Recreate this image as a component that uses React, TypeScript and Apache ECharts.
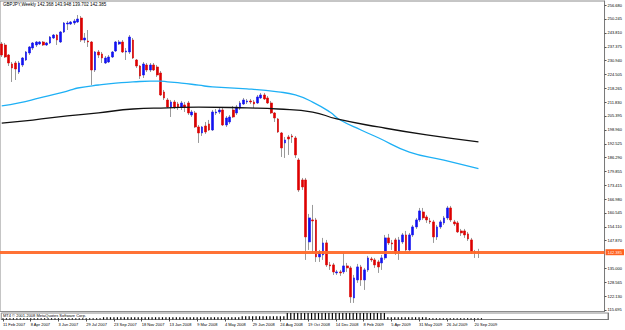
import React, { useEffect, useRef } from "react";
import * as echarts from "echarts";

const titleText = "GBPJPY,Weekly 142.368 143.948 139.702 142.385";
const footerText = "MT4 © 2001-2008 MetaQuotes Software Corp.";
const lastPrice = 142.385;
const SLOTS = 175;

const dateLabels = [
  "11 Feb 2007", "8 Apr 2007", "3 Jun 2007", "29 Jul 2007", "23 Sep 2007", "18 Nov 2007",
  "13 Jan 2008", "9 Mar 2008", "4 May 2008", "29 Jun 2008", "24 Aug 2008", "19 Oct 2008",
  "14 Dec 2008", "8 Feb 2009", "5 Apr 2009", "31 May 2009", "26 Jul 2009", "20 Sep 2009",
];

const yTicks = [
  256.68, 250.245, 243.81, 237.375, 230.94, 224.505, 218.265, 211.83, 205.395, 198.96, 192.525,
  186.29, 179.855, 173.415, 166.98, 160.545, 154.11, 147.87, 135.0, 128.565, 122.13, 115.695,
];

const open = [
  238.65, 238.19, 233.57, 229.41, 229.87, 225.71, 228.95, 231.26, 234.49, 236.8,
  238.19, 238.65, 239.58, 238.19, 239.12, 241.43, 242.81, 239.58, 244.2, 247.9,
  247.9, 248.36, 248.82, 250.67, 240.5, 240.04, 239.58, 226.64, 234.96, 234.03,
  229.87, 230.33, 232.64, 235.42, 238.65, 239.58, 234.96, 234.96, 240.5, 231.26,
  228.48, 224.32, 228.95, 226.64, 228.95, 228.02, 225.25, 216.47, 212.77, 209.53,
  211.85, 210.92, 209.53, 210.46, 211.38, 205.84, 206.76, 200.29, 197.52, 200.75,
  201.68, 198.9, 206.76, 207.22, 208.15, 201.21, 202.6, 208.15, 206.76, 209.07,
  210.92, 211.85, 212.31, 211.85, 211.38, 213.69, 215.08, 213.69, 211.38, 206.76,
  203.99, 197.52, 192.9, 195.67, 196.13, 195.21, 185.04, 175.79, 175.79, 147.14,
  157.31, 157.31, 140.2, 141.13, 146.68, 136.51, 136.51, 132.81, 133.27, 133.27,
  136.04, 135.12, 121.25, 129.57, 135.58, 129.57, 134.2, 139.28, 138.82, 137.89,
  137.43, 139.74, 148.99, 146.68, 148.06, 142.05, 147.14, 150.37, 143.44, 150.37,
  154.07, 157.31, 161.0, 158.69, 156.84, 156.38, 149.45, 154.07, 155.92, 158.23,
  162.85, 156.38, 155.92, 152.22, 152.22, 150.84, 148.06, 142.52, 142.368,
];

const close = [
  233.57, 232.64, 229.87, 227.56, 227.1, 229.87, 232.18, 234.96, 237.27, 239.12,
  239.58, 239.58, 238.19, 239.12, 241.89, 242.81, 240.5, 244.2, 248.36, 248.36,
  248.82, 249.28, 250.21, 240.5, 241.43, 239.58, 226.64, 234.96, 233.57, 232.18,
  232.18, 232.64, 234.96, 239.58, 239.58, 234.96, 235.42, 241.89, 232.18, 228.48,
  223.86, 229.41, 226.64, 228.95, 226.64, 224.32, 215.08, 213.69, 209.53, 211.85,
  209.53, 209.53, 211.38, 209.53, 206.76, 207.22, 200.29, 197.52, 200.29, 197.98,
  198.9, 207.22, 207.22, 208.15, 201.21, 204.45, 204.91, 204.91, 209.53, 211.38,
  212.77, 212.31, 211.85, 210.92, 214.16, 215.08, 213.23, 211.38, 206.76, 204.45,
  197.98, 190.58, 194.28, 194.74, 195.67, 187.35, 171.17, 172.56, 149.45, 158.23,
  156.84, 140.2, 142.52, 146.68, 136.51, 136.04, 133.27, 133.27, 132.81, 136.04,
  135.12, 121.72, 130.5, 135.58, 129.57, 134.2, 139.74, 138.82, 136.51, 135.58,
  139.74, 148.99, 146.68, 146.21, 142.05, 148.06, 150.37, 143.44, 150.37, 154.07,
  157.31, 161.47, 158.23, 157.31, 156.38, 149.45, 154.07, 156.38, 158.23, 162.85,
  157.31, 155.46, 151.76, 151.3, 150.37, 148.52, 142.52, 142.05, 142.385,
];

const high = [
  239.58, 239.12, 234.03, 230.33, 230.8, 230.8, 232.64, 235.42, 237.73, 239.58,
  240.04, 240.04, 240.04, 239.58, 242.35, 243.28, 243.28, 244.66, 248.82, 249.28,
  249.28, 250.21, 252.06, 251.59, 243.74, 245.12, 240.04, 235.42, 235.88, 234.96,
  233.11, 233.57, 235.42, 240.04, 240.5, 240.5, 236.8, 242.81, 241.43, 231.72,
  228.95, 230.33, 229.87, 229.87, 229.87, 228.95, 226.17, 217.39, 213.69, 212.77,
  212.77, 211.85, 212.31, 211.85, 212.31, 208.15, 207.69, 201.21, 200.75, 202.6,
  203.53, 208.15, 208.61, 209.07, 209.07, 205.37, 205.84, 210.0, 210.46, 212.31,
  213.69, 213.23, 213.23, 212.77, 215.08, 216.01, 216.01, 214.62, 212.31, 207.22,
  204.45, 197.98, 195.67, 196.59, 197.06, 196.13, 185.96, 176.72, 176.72, 160.08,
  164.24, 158.23, 143.44, 148.99, 148.06, 137.89, 137.43, 134.2, 134.2, 142.05,
  137.43, 136.04, 131.88, 136.97, 136.51, 135.12, 140.67, 140.2, 139.74, 138.82,
  141.13, 150.37, 150.84, 148.06, 148.99, 149.45, 151.3, 152.22, 151.3, 154.99,
  158.23, 162.85, 162.85, 159.62, 158.23, 157.31, 154.99, 157.31, 159.15, 163.78,
  163.78, 157.31, 156.84, 153.15, 153.15, 151.76, 148.99, 143.44, 143.948,
];

const low = [
  232.64, 232.18, 228.48, 221.09, 222.01, 224.79, 228.02, 230.8, 233.57, 235.88,
  237.27, 238.19, 237.73, 237.73, 238.65, 240.96, 238.19, 239.12, 243.74, 245.12,
  247.43, 247.43, 248.36, 239.58, 239.12, 237.27, 219.7, 225.71, 232.18, 229.87,
  229.41, 229.87, 232.18, 234.96, 238.19, 234.49, 231.26, 234.03, 231.72, 227.56,
  222.48, 222.94, 225.71, 225.71, 226.17, 223.4, 214.62, 212.77, 209.07, 204.91,
  208.61, 208.15, 208.15, 207.22, 205.84, 204.91, 199.83, 192.9, 196.13, 197.06,
  198.44, 198.44, 205.84, 206.3, 200.75, 200.29, 201.68, 204.45, 205.84, 208.15,
  210.46, 210.92, 210.92, 209.07, 210.92, 213.23, 212.77, 210.92, 206.3, 202.6,
  197.52, 186.42, 185.96, 187.35, 192.9, 185.96, 170.25, 171.17, 138.82, 143.44,
  142.05, 137.89, 137.89, 138.82, 135.58, 134.2, 131.88, 131.88, 131.42, 132.35,
  133.27, 118.94, 118.94, 128.19, 126.8, 124.95, 133.27, 137.89, 135.12, 132.81,
  134.2, 138.82, 145.75, 143.44, 141.13, 138.82, 146.21, 142.52, 142.52, 149.45,
  153.15, 156.38, 157.31, 155.92, 155.46, 146.68, 148.06, 153.15, 154.99, 157.31,
  156.38, 154.53, 151.3, 149.91, 148.99, 147.6, 141.59, 139.74, 139.702,
];

// moving averages: [bar index, value]
const maBlue = [
  [0, 210.0], [5, 211.4], [11, 213.7], [17, 216.0], [20, 217.4], [22, 218.3], [28, 219.7],
  [33, 220.6], [38, 221.1], [43, 221.5], [46, 221.5], [48, 221.1], [52, 220.6], [57, 219.6],
  [61, 218.8], [71, 217.9], [80, 216.5], [85, 215.1], [90, 211.8], [95, 207.2], [98, 203.5],
  [104, 198.9], [109, 195.3], [118, 188.7], [128, 185.0], [138, 181.0],
];
const maBlack = [
  [0, 202.1], [9, 203.5], [19, 205.4], [28, 206.8], [38, 208.6], [48, 209.1], [57, 209.5],
  [71, 209.1], [80, 208.6], [90, 207.2], [97, 204.0], [109, 200.3], [123, 196.6], [138, 193.4],
];

// indicator histogram (relative heights)
const osc = [
  0.2, 0.2, 0.2, 0.2, 0.2, 0.2, 0.2, 0.2, 0.2, 0.2,
  0.2, 0.2, 0.2, 0.2, 0.2, 0.2, 0.2, 0.2, 0.2, 0.2,
  0.2, 0.2, 0.2, 0.2, 0.2, 0.2, 0.2, 0.2, 0.2, 0.35,
  0.35, 0.35, 0.35, 0.35, 0.35, 0.35, 0.35, 0.35, 0.35, 0.35,
  0.35, 0.35, 0.35, 0.35, 0.35, 0.35, 0.35, 0.35, 0.35, 0.35,
  0.35, 0.35, 0.35, 0.35, 0.35, 0.35, 0.35, 0.35, 0.35, 0.35,
  0.35, 0.35, 0.35, 0.35, 0.35, 0.35, 0.35, 0.35, 0.35, 0.5,
  0.5, 0.5, 0.5, 0.5, 0.5, 0.5, 0.5, 0.5, 0.5, 0.5,
  0.5, 0.5, 1, 1, 1, 1, 1, 1, 1, 1,
  1, 1, 1, 1, 1, 1, 1, 1, 1, 1,
  1, 1, 1, 1, 1, 1, 1, 1, 1, 1,
  1, 0.35, 0.35, 0.35, 0.35, 0.35, 0.35, 0.35, 0.35, 0.35,
  0.35, 0.35, 0.35, 0.2, 0.2, 0.2, 0.2, 0.2, 0.2, 0.2,
  0.2, 0.2, 0.2, 0.2, 0.2, 0.2, 0.2, 0.2, 0.2,
];

const BULL = "#1212f0";
const BEAR = "#dd0000";
const WICK = "#9a9a9a";
const FONT = "Liberation Sans";

export default function App() {
  const ref = useRef<HTMLDivElement>(null);
  useEffect(() => {
    if (!ref.current) return;
    const chart = echarts.init(ref.current, null, { renderer: "svg" });
    const cats = Array.from({ length: SLOTS }, (_, i) => String(i));
    const ohlc = open.map((o, i) => [o, close[i], low[i], high[i]]);
    const bodies = open.map((o, i) => [o, close[i], Math.min(o, close[i]), Math.max(o, close[i])]);
    const showDate = (index: number) => index % 8 === 0 && index / 8 < dateLabels.length;

    chart.setOption({
      animation: false,
      backgroundColor: "#ffffff",
      textStyle: { fontFamily: FONT },
      graphic: [
        { type: "text", left: 3, top: 2, style: { text: titleText, fontSize: 4.5, fill: "#000", fontFamily: FONT } },
        { type: "text", left: 3, top: 313.5, style: { text: footerText, fontSize: 4, fill: "#000", fontFamily: FONT } },
      ],
      grid: [
        { left: 0, top: 1, width: 608, height: 310.5, show: true, borderColor: "#8c8c8c", borderWidth: 1 },
        { left: 0, top: 313, width: 608, height: 6.5, show: true, borderColor: "#8c8c8c", borderWidth: 1 },
      ],
      xAxis: [
        {
          type: "category", gridIndex: 0, data: cats, boundaryGap: true,
          axisLine: { show: false }, axisTick: { show: false }, axisLabel: { show: false }, splitLine: { show: false },
        },
        {
          type: "category", gridIndex: 1, data: cats, boundaryGap: true,
          axisLine: { show: true, lineStyle: { color: "#7a7a7a", width: 1 } },
          axisTick: { show: true, alignWithLabel: true, interval: (i: number) => showDate(i), length: 2, lineStyle: { color: "#555" } },
          axisLabel: {
            show: true, interval: (i: number) => showDate(i), align: "left", margin: 3,
            fontSize: 4, color: "#000", fontFamily: FONT,
            formatter: (_v: string, i: number) => (showDate(i) ? dateLabels[i / 8] : ""),
          },
          splitLine: { show: false },
        },
      ],
      yAxis: [
        {
          type: "value", gridIndex: 0, position: "right", min: 114.97, max: 258.53, scale: true,
          axisLine: { show: true, lineStyle: { color: "#7a7a7a", width: 1 } },
          axisTick: { show: true, customValues: yTicks, length: 2, lineStyle: { color: "#555" } },
          axisLabel: {
            show: true, customValues: yTicks, fontSize: 4, color: "#000", margin: 3, fontFamily: FONT,
            formatter: (v: number) => v.toFixed(3),
          },
          splitLine: { show: false },
        },
        {
          type: "value", gridIndex: 1, position: "right", min: 0, max: 1,
          axisLine: { show: true, lineStyle: { color: "#7a7a7a", width: 1 } },
          axisTick: { show: false }, axisLabel: { show: false }, splitLine: { show: false },
        },
      ],
      series: [
        {
          type: "candlestick", xAxisIndex: 0, yAxisIndex: 0, data: ohlc, barWidth: 1,
          itemStyle: { color: WICK, color0: WICK, borderColor: WICK, borderColor0: WICK, borderWidth: 1 },
          z: 2,
        },
        {
          type: "candlestick", xAxisIndex: 0, yAxisIndex: 0, data: bodies, barWidth: 2.2,
          itemStyle: { color: BULL, color0: BEAR, borderColor: BULL, borderColor0: BEAR, borderWidth: 0.6 },
          z: 3,
          markLine: {
            silent: true, symbol: "none", animation: false,
            lineStyle: { color: "#ff6a2a", width: 3, type: "solid", opacity: 0.95 },
            label: {
              show: true, position: "end", formatter: lastPrice.toFixed(3), fontSize: 4, color: "#fff",
              backgroundColor: "#ff5a14", padding: [1, 2], distance: 1, fontFamily: FONT,
            },
            data: [{ yAxis: lastPrice }],
          },
        },
        {
          type: "line", xAxisIndex: 0, yAxisIndex: 0, data: maBlue, showSymbol: false, smooth: true,
          lineStyle: { color: "#1eb0f5", width: 1.3 }, z: 4,
        },
        {
          type: "line", xAxisIndex: 0, yAxisIndex: 0, data: maBlack, showSymbol: false, smooth: true,
          lineStyle: { color: "#111", width: 1.3 }, z: 4,
        },
        {
          type: "bar", xAxisIndex: 1, yAxisIndex: 1, data: osc, barWidth: 1.2,
          itemStyle: { color: "#000" },
        },
      ],
    });
    return () => chart.dispose();
  }, []);
  return <div ref={ref} style={{ position: "fixed", left: 0, top: 0, width: 625, height: 330, background: "#fff" }} />;
}
